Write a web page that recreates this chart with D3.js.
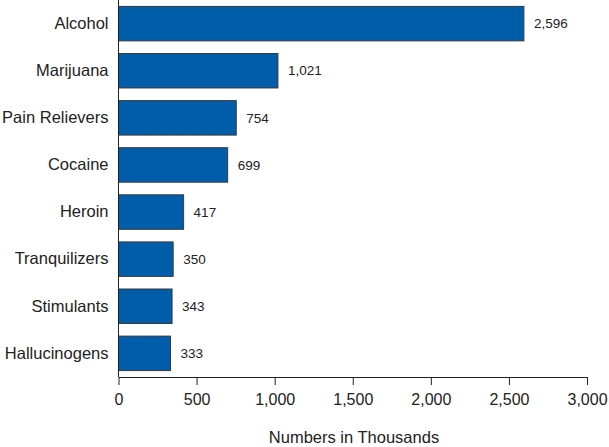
<!DOCTYPE html>
<html><head><meta charset="utf-8">
<script src="https://cdn.jsdelivr.net/npm/d3@7"></script>
<style>body{margin:0;background:#fff}svg{display:block}text{font-family:Arial,"Liberation Sans",sans-serif;fill:#222}</style>
</head><body>
<svg id="c" width="609" height="447"></svg>
<script>
const categories = ["Alcohol","Marijuana","Pain Relievers","Cocaine","Heroin","Tranquilizers","Stimulants","Hallucinogens"];
const values = [2596,1021,754,699,417,350,343,333];
const ticks = [0,500,1000,1500,2000,2500,3000];
const xTitle = "Numbers in Thousands";

const svg = d3.select("#c");
const x = d3.scaleLinear().domain([0,3000]).range([118.5,587]);
const y = d3.scaleBand().domain(categories).range([0,377]).paddingInner(0.268).paddingOuter(0.136);
const fmt = d3.format(",");

svg.selectAll("rect.bar").data(values).join("rect")
  .attr("class","bar")
  .attr("x", x(0))
  .attr("y",(d,i)=>y(categories[i]))
  .attr("width",d=>x(d)-x(0))
  .attr("height",y.bandwidth())
  .attr("fill","#005DAA").attr("stroke","#3a3a3a").attr("stroke-width",1);

svg.selectAll("text.val").data(values).join("text")
  .attr("class","val")
  .attr("x",d=>x(d)+10)
  .attr("y",(d,i)=>y(categories[i])+y.bandwidth()/2)
  .attr("dy","0.35em")
  .style("font-size","13.5px")
  .text(d=>fmt(d));

const gx = svg.append("g").attr("transform","translate(0,377)")
  .call(d3.axisBottom(x).tickValues(ticks).tickFormat(fmt).tickSize(8).tickSizeOuter(0).tickPadding(9));
gx.select(".domain").attr("stroke","#222");
gx.selectAll(".tick line").attr("stroke","#222");
gx.selectAll("text").style("font-size","16px").attr("fill","#222");

const gy = svg.append("g").attr("transform","translate(118.5,0)")
  .call(d3.axisLeft(y).tickSize(0).tickPadding(10));
gy.select(".domain").attr("stroke","#222").attr("d","M0,0V377");
gy.selectAll("text").style("font-size","16.5px").attr("fill","#222");

svg.append("text").attr("x",354).attr("y",443).attr("text-anchor","middle")
  .style("font-size","16.5px").text(xTitle);
</script>
</body></html>
